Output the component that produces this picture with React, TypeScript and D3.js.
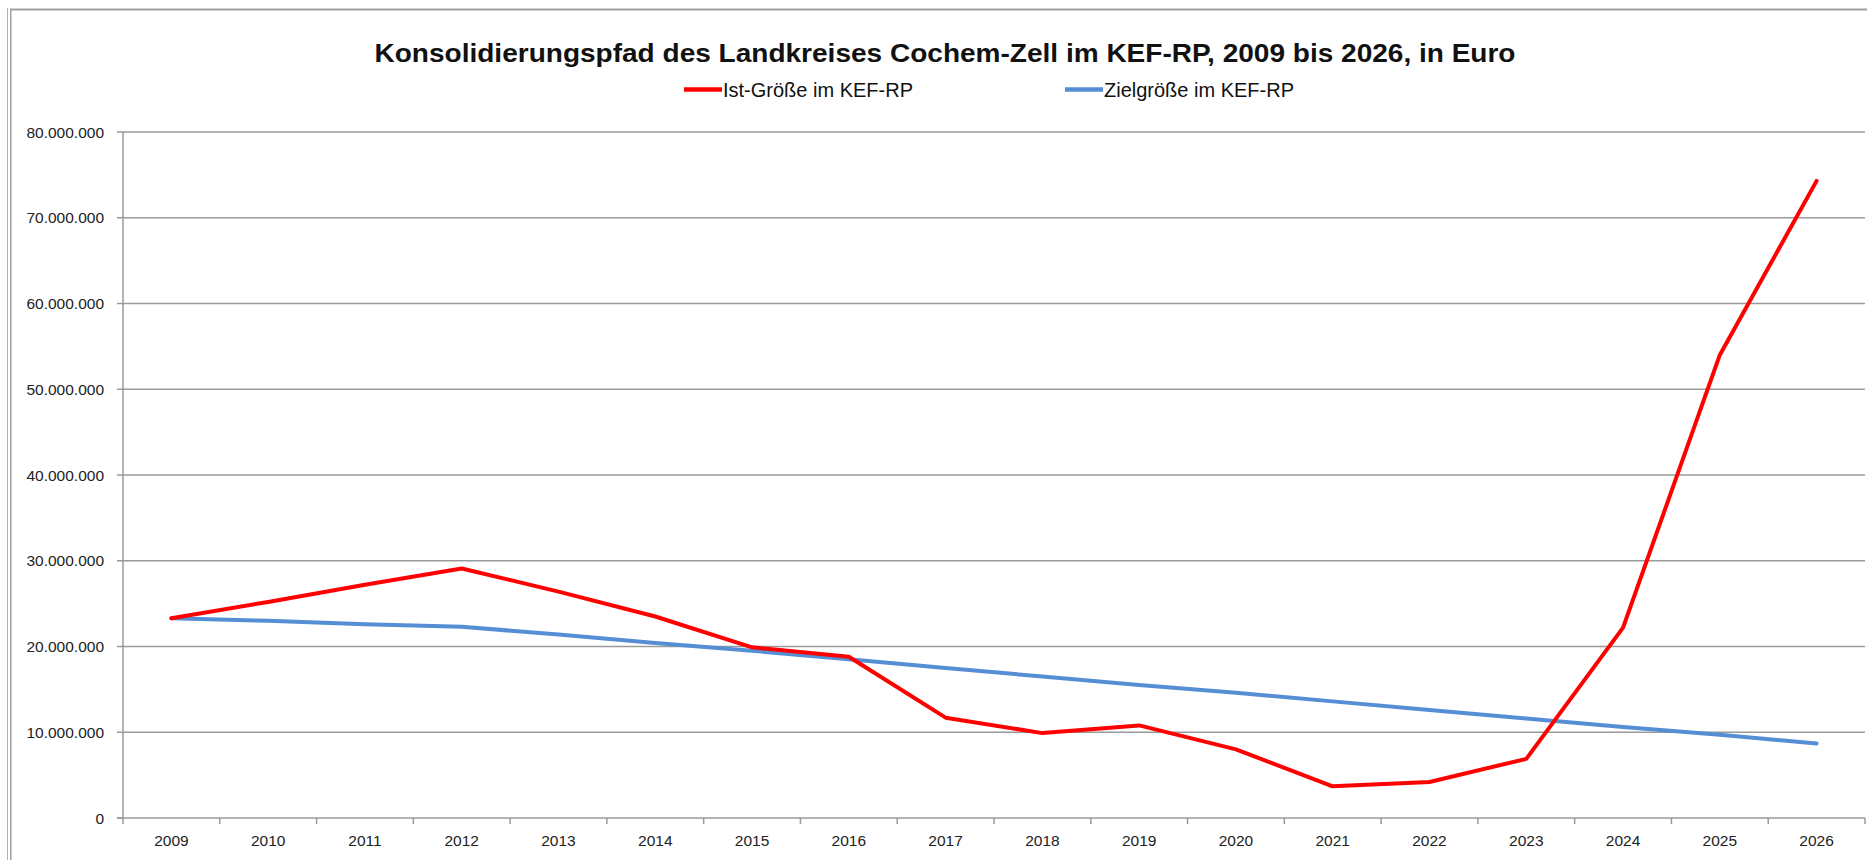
import React, { useEffect, useRef } from "react";
import * as d3 from "d3";

const TITLE = "Konsolidierungspfad des Landkreises Cochem-Zell im KEF-RP, 2009 bis 2026, in Euro";
const SERIES_NAMES = ["Ist-Größe im KEF-RP", "Zielgröße im KEF-RP"];
const YEARS = ["2009","2010","2011","2012","2013","2014","2015","2016","2017","2018","2019","2020","2021","2022","2023","2024","2025","2026"];
const IST = [23.3e6, 25.2e6, 27.2e6, 29.1e6, 26.4e6, 23.5e6, 19.9e6, 18.8e6, 11.7e6, 9.9e6, 10.8e6, 8.0e6, 3.7e6, 4.2e6, 6.9e6, 22.2e6, 54.0e6, 74.3e6];
const ZIEL = [23.3e6, 23.0e6, 22.6e6, 22.3e6, 21.4e6, 20.4e6, 19.5e6, 18.5e6, 17.5e6, 16.5e6, 15.5e6, 14.6e6, 13.6e6, 12.6e6, 11.6e6, 10.6e6, 9.7e6, 8.7e6];
const Y_TICKS = [0, 10e6, 20e6, 30e6, 40e6, 50e6, 60e6, 70e6, 80e6];
const COLORS = ["#ff0000", "#558ed5"];

const W = 1867, H = 860;

export default function App() {
  const ref = useRef<SVGSVGElement | null>(null);

  useEffect(() => {
    const svg = d3.select(ref.current);
    svg.selectAll("*").remove();

    const x = d3.scaleBand<string>().domain(YEARS).range([123, 1865]).padding(0);
    const y = d3.scaleLinear().domain([0, 80e6]).range([818, 132]);
    const loc = d3.formatLocale({ decimal: ",", thousands: ".", grouping: [3], currency: ["", "€"] });
    const fmt = loc.format(",.0f");

    svg.append("rect").attr("x", 0).attr("y", 0).attr("width", W).attr("height", H).attr("fill", "#fff");

    // frame
    svg.append("line").attr("x1", 7.5).attr("x2", 7.5).attr("y1", 8).attr("y2", H).attr("stroke", "#b0b0b0").attr("stroke-width", 1);
    svg.append("line").attr("x1", 10.8).attr("x2", 10.8).attr("y1", 9).attr("y2", H).attr("stroke", "#a0a0a0").attr("stroke-width", 1.5);
    svg.append("line").attr("x1", 10).attr("x2", W).attr("y1", 9.5).attr("y2", 9.5).attr("stroke", "#a0a0a0").attr("stroke-width", 2);

    // gridlines
    const g = svg.append("g");
    g.selectAll("line.grid").data(Y_TICKS.filter(v => v > 0)).join("line")
      .attr("x1", 123).attr("x2", 1865)
      .attr("y1", d => y(d)).attr("y2", d => y(d))
      .attr("stroke", "#9a9a9a").attr("stroke-width", 1.5);

    // y ticks & labels
    g.selectAll("line.yt").data(Y_TICKS).join("line")
      .attr("x1", 117).attr("x2", 123)
      .attr("y1", d => y(d)).attr("y2", d => y(d))
      .attr("stroke", "#9a9a9a").attr("stroke-width", 1.5);
    g.selectAll("text.yl").data(Y_TICKS).join("text")
      .attr("x", 104).attr("y", d => y(d)).attr("dy", "0.36em")
      .attr("text-anchor", "end")
      .attr("font-family", "'Liberation Sans', Arial, sans-serif").attr("font-size", 15.5)
      .attr("fill", "#222")
      .text(d => fmt(d));

    // axes lines
    svg.append("line").attr("x1", 123).attr("x2", 123).attr("y1", 132).attr("y2", 818).attr("stroke", "#9a9a9a").attr("stroke-width", 1.5);
    svg.append("line").attr("x1", 117).attr("x2", 1865).attr("y1", 818).attr("y2", 818).attr("stroke", "#9a9a9a").attr("stroke-width", 1.5);

    // x ticks at boundaries
    const bounds = YEARS.map(yr => x(yr) as number).concat([x.range()[1]]);
    svg.selectAll("line.xt").data(bounds).join("line")
      .attr("x1", d => d).attr("x2", d => d).attr("y1", 818).attr("y2", 824)
      .attr("stroke", "#9a9a9a").attr("stroke-width", 1.5);
    svg.selectAll("text.xl").data(YEARS).join("text")
      .attr("x", d => (x(d) as number) + x.bandwidth() / 2).attr("y", 846)
      .attr("text-anchor", "middle")
      .attr("font-family", "'Liberation Sans', Arial, sans-serif").attr("font-size", 15.5)
      .attr("fill", "#222")
      .text(d => d);

    // lines
    const line = d3.line<number>()
      .x((_, i) => (x(YEARS[i]) as number) + x.bandwidth() / 2)
      .y(d => y(d));
    [ZIEL, IST].forEach((data, k) => {
      const color = k === 0 ? COLORS[1] : COLORS[0];
      svg.append("path").attr("d", line(data) as string)
        .attr("fill", "none").attr("stroke", color).attr("stroke-width", 4)
        .attr("stroke-linejoin", "round").attr("stroke-linecap", "round");
    });

    // title
    svg.append("text").attr("x", 945).attr("y", 62)
      .attr("text-anchor", "middle")
      .attr("font-family", "'Liberation Sans', Arial, sans-serif").attr("font-weight", "bold").attr("font-size", 26)
      .attr("textLength", 1141).attr("lengthAdjust", "spacingAndGlyphs")
      .attr("fill", "#111")
      .text(TITLE);

    // legend
    const legendItems = [
      { name: SERIES_NAMES[0], color: COLORS[0], x0: 684, w: 190 },
      { name: SERIES_NAMES[1], color: COLORS[1], x0: 1065, w: 190 },
    ];
    legendItems.forEach(it => {
      svg.append("line").attr("x1", it.x0).attr("x2", it.x0 + 38).attr("y1", 89.5).attr("y2", 89.5)
        .attr("stroke", it.color).attr("stroke-width", 4.5);
      svg.append("text").attr("x", it.x0 + 39).attr("y", 96.5)
        .attr("font-family", "'Liberation Sans', Arial, sans-serif").attr("font-size", 19.5)
        .attr("textLength", it.w).attr("lengthAdjust", "spacingAndGlyphs")
        .attr("fill", "#111")
        .text(it.name);
    });
  }, []);

  return (
    <svg ref={ref} width={W} height={H} style={{ position: "absolute", left: 0, top: 0, display: "block" }} />
  );
}
